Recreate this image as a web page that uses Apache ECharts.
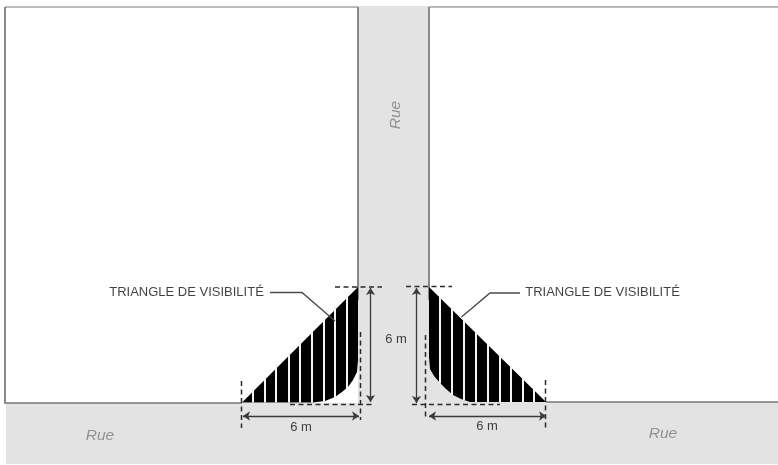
<!DOCTYPE html>
<html><head><meta charset="utf-8">
<script src="https://cdn.jsdelivr.net/npm/echarts@6/dist/echarts.min.js"></script>
<style>html,body{margin:0;padding:0;background:#fff}#c{width:778px;height:465px}</style>
</head><body><div id="c"></div>
<script>
// Scene, in picture units.
const road = [[6,403],[6,464],[778,464],[778,6],[358,6],[358,403]];
const curveLeft = [[358,360],[357,372],[353,380],[348,387],[342,392],[335,397],[325,401],[313,402.5]];
const curveRight = [[429,357],[430,369],[434,376],[440,383],[446,389],[453,395],[461,399],[470,402]];
const lotLeftCorners = [[242,403],[5,403],[5,7],[358,7]];
const lotRightCorners = [[546,402],[778,402],[778,7],[429,7]];
const triangleLeftTips = [[242,402.5],[358,287]];
const triangleRightTips = [[546,402],[429,287]];
const lotEdgesDark = [
  [[5,7],[5,403],[242,403]], [[358,7],[358,300]],
  [[429,7],[429,300]], [[546,402],[778,402]]
];
const lotEdgesTop = [[[5,7],[358,7]], [[429,7],[778,7]]];
const stripesLeft = [
  [252.5,389,402.5],[264.5,377,402.5],[276,365,402.5],[288.5,353,402.5],[300,341,402.5],
  [311.5,330,402.5],[323.5,318,401.5],[335,306,397.5],[346.5,295,389.5]
];
const stripesRight = [
  [440,297,383.5],[452,309,395],[463.5,320,400],[475.5,332,402],[487.5,344,402],
  [499.5,355,402],[511,367,402],[522.5,378,402],[533.5,389,402]
];
const dashed = [
  [[241.5,381],[241.5,428]], [[335,287],[382,287]], [[360.5,332],[360.5,420]], [[290,404.5],[375,404.5]],
  [[545.5,380],[545.5,428]], [[406,286.5],[452,286.5]], [[425.5,335],[425.5,420]], [[412,404.5],[500,404.5]]
];
const arrows = [
  [[370.5,288],[370.5,402]], [[243,416],[359,416]],
  [[416.5,288],[416.5,403]], [[429,416],[546,416]]
];
const leaders = [
  [[270,292.5],[302,292.5],[335,321]],
  [[520,293],[490,293],[461.5,317]]
];
const darkLabels = [
  {text:'TRIANGLE DE VISIBILITÉ', at:[186.5,292]},
  {text:'TRIANGLE DE VISIBILITÉ', at:[602.5,292]},
  {text:'6 m', at:[301,427]},
  {text:'6 m', at:[396,339]},
  {text:'6 m', at:[487,426]}
];
const roadLabels = [
  {text:'Rue', at:[100,436], rotate:0},
  {text:'Rue', at:[663,434], rotate:0},
  {text:'Rue', at:[396,115], rotate:90}
];

const polygonSeries = (pts, fill) => ({
  type:'custom', coordinateSystem:'cartesian2d', silent:true, animation:false, clip:false,
  data:[0],
  renderItem:(p, api) => ({
    type:'polygon',
    shape:{points:pts.map(q => api.coord(q))},
    style:{fill}
  })
});
const linesSeries = (list, style, extra) => Object.assign({
  type:'lines', coordinateSystem:'cartesian2d', silent:true, animation:false, polyline:true,
  data:list.map(c => ({coords:c})), lineStyle:Object.assign({opacity:1}, style), z:5
}, extra || {});
const labelSeries = (list, color, size, style) => ({
  type:'scatter', coordinateSystem:'cartesian2d', silent:true, animation:false, symbolSize:0, z:6,
  data:list.map(l => ({value:l.at, name:l.text,
    label:{show:true, position:'inside', formatter:l.text, rotate:l.rotate || 0,
      color, fontSize:size, fontStyle:style, fontFamily:'Liberation Sans'}}))
});
const stripeLines = list => list.map(s => [[s[0],s[1]],[s[0],s[2]]]);

const chart = echarts.init(document.getElementById('c'), null, {renderer:'canvas'});
chart.setOption({
  animation:false, backgroundColor:'#ffffff',
  grid:{left:0,right:0,top:0,bottom:0},
  xAxis:{type:'value',min:0,max:778,show:false},
  yAxis:{type:'value',min:0,max:465,inverse:true,show:false},
  series:[
    polygonSeries(road,'#e3e3e3'),
    polygonSeries(lotLeftCorners.concat(curveLeft),'#ffffff'),
    polygonSeries(lotRightCorners.concat(curveRight),'#ffffff'),
    linesSeries(lotEdgesTop,{color:'#a6a6a6',width:1.4},{z:2}),
    linesSeries(lotEdgesDark,{color:'#777777',width:1.7},{z:2}),
    polygonSeries(triangleLeftTips.concat(curveLeft),'#000000'),
    polygonSeries(triangleRightTips.concat(curveRight),'#000000'),
    linesSeries(stripeLines(stripesLeft).concat(stripeLines(stripesRight)),{color:'#f4f4f4',width:2},{polyline:false,z:3}),
    linesSeries(dashed,{color:'#2a2a2a',width:1.5,type:[5,3.5]}),
    linesSeries(arrows,{color:'#3a3a3a',width:1.3},{polyline:false,symbol:['arrow','arrow'],symbolSize:7}),
    linesSeries(leaders,{color:'#4a4a4a',width:1.4}),
    labelSeries(darkLabels,'#111111',13,'normal'),
    labelSeries(roadLabels,'#7c7c7c',15.5,'italic')
  ]
});
</script></body></html>
